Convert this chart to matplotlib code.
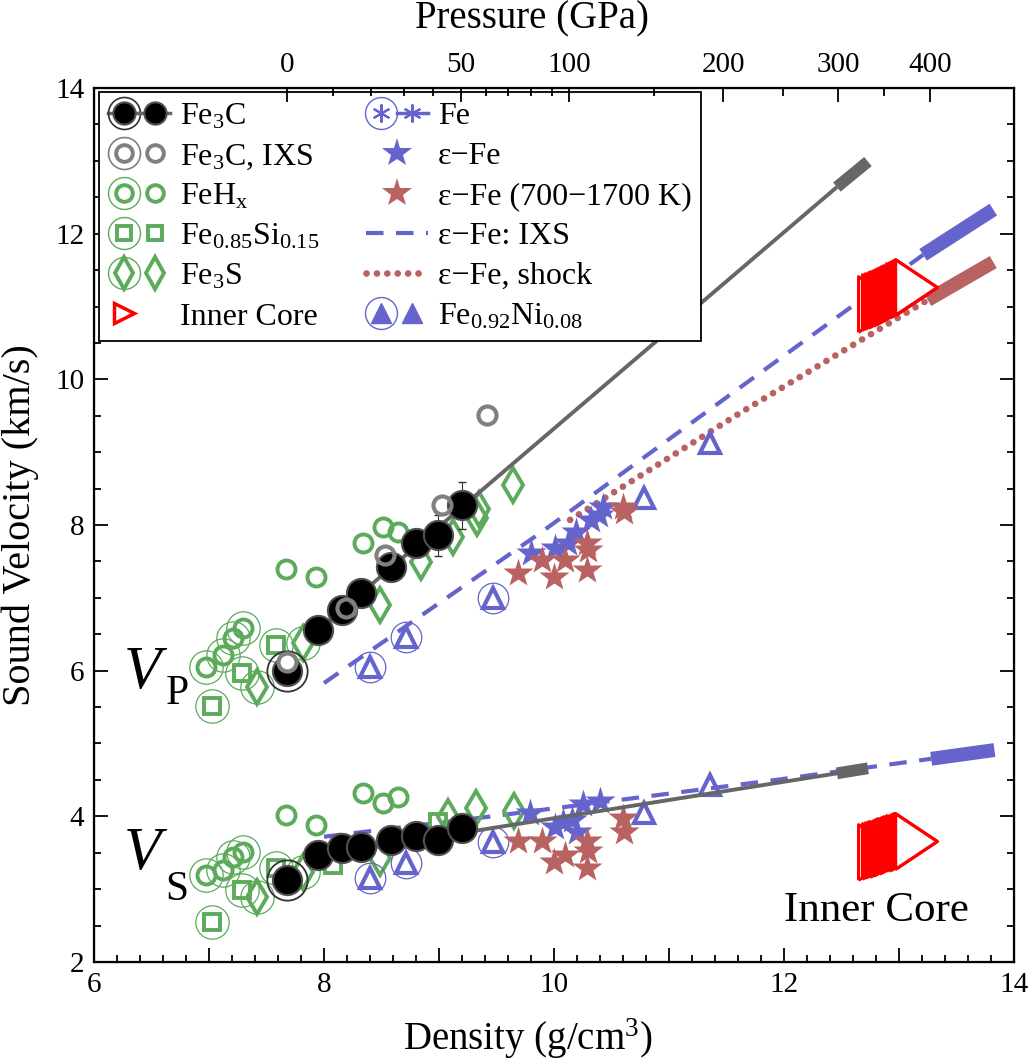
import matplotlib
matplotlib.use("Agg")
import matplotlib.pyplot as plt
from matplotlib.lines import Line2D
from matplotlib.legend_handler import HandlerTuple
from matplotlib.ticker import MultipleLocator, FuncFormatter

plt.rcParams["font.family"] = ["Liberation Serif", "DejaVu Serif"]
plt.rcParams["mathtext.fontset"] = "custom"
plt.rcParams["mathtext.rm"] = "Liberation Serif"
plt.rcParams["mathtext.it"] = "Liberation Serif:italic"

# ---------------- data ----------------
# Fe3C (NRIXS): density (g/cm3), Vp and Vs (km/s)
fe3c_rho = [7.95, 8.16, 8.32, 8.58, 8.80, 8.99, 9.20]
fe3c_vp = [6.56, 6.83, 7.07, 7.42, 7.75, 7.86, 8.27]
fe3c_vs = [3.47, 3.56, 3.58, 3.67, 3.73, 3.67, 3.84]
fe3c_vp_err = [0.0, 0.0, 0.0, 0.0, 0.05, 0.28, 0.32]
fe3c_rho_err = [0.0, 0.0, 0.0, 0.0, 0.0, 0.08, 0.0]
# Fe3C at ambient pressure
fe3c0_rho = [7.68]
fe3c0_vp = [6.00]
fe3c0_vs = [3.13]
# Fe3C, IXS
fe3c_ixs_rho = [8.19, 8.53, 9.03, 9.42]
fe3c_ixs_vp = [6.86, 7.59, 8.27, 9.51]
fe3c_ixs0_rho = [7.68]
fe3c_ixs0_vp = [6.12]
# Fe3C linear fit and its extrapolation to inner-core pressures
fe3c_fit_rho = [7.95, 12.46]
fe3c_fit_vp = [6.56, 12.64]
fe3c_fit_vs = [3.46, 4.59]
fe3c_ic_rho = [12.46, 12.73]
fe3c_ic_vp = [12.64, 12.99]
fe3c_ic_vs = [4.59, 4.66]

# FeHx
feh_rho = [7.67, 7.93, 8.34, 8.51, 8.64]
feh_vp = [7.40, 7.29, 7.75, 7.97, 7.90]
feh_vs = [4.02, 3.88, 4.32, 4.18, 4.27]
feh0_rho = [6.97, 7.12, 7.21, 7.30]
feh0_vp = [6.05, 6.21, 6.45, 6.59]
feh0_vs = [3.19, 3.26, 3.44, 3.51]

# Fe0.85Si0.15
fesi0_rho = [7.03, 7.29, 7.58]
fesi0_vp = [5.52, 5.97, 6.35]
fesi0_vs = [2.55, 2.99, 3.29]
fesi_rho = [8.08, 8.99]
fesi_vs = [3.33, 3.92]

# Fe3S
fes0_rho = [7.42, 7.82]
fes0_vp = [5.77, 6.38]
fes0_vs = [2.89, 3.24]
fes_rho = [8.49, 8.84, 9.12, 9.33, 9.35, 9.64]
fes_vp = [6.90, 7.49, 7.84, 8.10, 8.22, 8.55]
fes_vs_rho = [8.49, 9.08, 9.32, 9.65]
fes_vs = [3.43, 3.99, 4.11, 4.07]

# Fe0.92Ni0.08
feni0_rho = [8.40, 8.71, 9.47]
feni0_vp = [6.05, 6.46, 7.00]
feni0_vs = [3.15, 3.36, 3.65]
feni_rho = [10.78, 11.36]
feni_vp = [8.37, 9.13]
feni_vs = [4.04, 4.43]

# epsilon-Fe
efe_rho = [9.80, 10.01, 10.12, 10.19, 10.32, 10.39, 10.43]
efe_vp = [7.61, 7.68, 7.75, 7.91, 8.07, 8.14, 8.25]
efe_vs_rho = [9.79, 10.01, 10.08, 10.16, 10.20, 10.25, 10.40]
efe_vs = [4.04, 3.85, 3.92, 3.95, 3.78, 4.17, 4.21]

# epsilon-Fe, 700-1700 K
hfe_rho = [9.69, 9.90, 10.00, 10.10, 10.29, 10.30, 10.29, 10.60, 10.61]
hfe_vp = [7.34, 7.52, 7.29, 7.52, 7.75, 7.66, 7.38, 8.25, 8.18]
hfe_vs = [3.66, 3.66, 3.37, 3.47, 3.66, 3.52, 3.29, 3.98, 3.79]

# epsilon-Fe: IXS trend and extrapolation
ixs_rho = [8.00, 9.88, 11.62, 13.21]
ixs_vp = [5.83, 7.89, 9.89, 11.71]
ixs_ic_rho = [13.21, 13.82]
ixs_ic_vp = [11.71, 12.33]
ixs_vs_rho = [8.00, 9.36, 11.93, 13.28]
ixs_vs = [3.72, 3.98, 4.50, 4.79]
ixs_ic_vs_rho = [13.28, 13.83]
ixs_ic_vs = [4.79, 4.91]

# epsilon-Fe, shock
shock_rho = [10.14, 11.62, 13.25]
shock_vp = [8.07, 9.54, 11.09]
shock_ic_rho = [13.25, 13.82]
shock_ic_vp = [11.09, 11.61]

# Inner core (PREM), from the inner-core boundary (1221.5 km) to the centre
ic_rho = [12.764, 12.801, 12.825, 12.848, 12.871, 12.892, 12.912, 12.931, 12.949,
          12.966, 12.982, 13.010, 13.034, 13.054, 13.069, 13.080, 13.086, 13.089]
ic_vp = [11.028, 11.055, 11.073, 11.089, 11.105, 11.121, 11.135, 11.149, 11.162,
         11.174, 11.185, 11.206, 11.223, 11.237, 11.248, 11.256, 11.261, 11.262]
ic_vs = [3.504, 3.523, 3.535, 3.547, 3.558, 3.569, 3.579, 3.589, 3.598,
         3.606, 3.614, 3.628, 3.640, 3.650, 3.658, 3.663, 3.667, 3.668]

# Pressure scale (top axis): pressure (GPa) and corresponding density
p_major = [0, 50, 100, 200, 300, 400]
p_major_rho = [7.68, 9.19, 10.13, 11.47, 12.47, 13.27]
p_minor_rho = [8.08, 8.41, 8.70, 8.95, 9.41, 9.60, 9.80, 9.98, 10.87, 11.99, 12.87]

# ---------------- styles ----------------
GRAY = "#666666"
GREEN = "#5bab5b"
BLUE = "#6464cc"
BROWN = "#b86262"
RED = "#ff0000"
IXSGRAY = "#808080"
DASH = (0, (4.2, 3.0))
DOTS = (0, (0.01, 1.55))

fig = plt.figure(figsize=(10.35, 10.59), dpi=100)
ax = fig.add_axes([0.0908, 0.0916, 0.8889, 0.8253])

def ring(x, y, color, ms=24, mew=0.9, z=3):
    ax.plot(x, y, ls="none", marker="o", ms=ms, mfc="none", mec=color, mew=mew, zorder=z)

# lines
for ys, ys_ic in ((fe3c_fit_vp, fe3c_ic_vp), (fe3c_fit_vs, fe3c_ic_vs)):
    ax.plot(fe3c_fit_rho, ys, color=GRAY, lw=2.8, zorder=4, solid_capstyle="butt")
    ax.plot(fe3c_ic_rho, ys_ic, color=GRAY, lw=8.5, zorder=4, solid_capstyle="butt")

ax.plot(ixs_rho, ixs_vp, color=BLUE, lw=3.0, ls=DASH, zorder=2)
ax.plot(ixs_ic_rho, ixs_ic_vp, color=BLUE, lw=10, zorder=2, solid_capstyle="butt")
ax.plot(ixs_vs_rho, ixs_vs, color=BLUE, lw=3.0, ls=DASH, zorder=2)
ax.plot(ixs_ic_vs_rho, ixs_ic_vs, color=BLUE, lw=10, zorder=2, solid_capstyle="butt")
ax.plot(shock_rho, shock_vp, color=BROWN, lw=4.8, ls=DOTS,
        dash_capstyle="round", zorder=2)
ax.plot(shock_ic_rho, shock_ic_vp, color=BROWN, lw=10, zorder=2, solid_capstyle="butt")

# green: FeHx, Fe0.85Si0.15, Fe3S
for rho, vs in ((feh0_rho, feh0_vp), (feh0_rho, feh0_vs), (fesi0_rho, fesi0_vp),
                (fesi0_rho, fesi0_vs), (fes0_rho, fes0_vp), (fes0_rho, fes0_vs)):
    ring(rho, vs, GREEN, ms=24, mew=0.9)
mk = dict(ls="none", mfc="none", mec=GREEN, mew=2.8, zorder=3)
ax.plot(feh_rho, feh_vp, marker="o", ms=13, **mk)
ax.plot(feh_rho, feh_vs, marker="o", ms=13, **mk)
ax.plot(feh0_rho, feh0_vp, marker="o", ms=13, **mk)
ax.plot(feh0_rho, feh0_vs, marker="o", ms=13, **mk)
ax.plot(fesi0_rho, fesi0_vp, marker="s", ms=11, **mk)
ax.plot(fesi0_rho, fesi0_vs, marker="s", ms=11, **mk)
ax.plot(fesi_rho, fesi_vs, marker="s", ms=11, **mk)
ax.plot(fes0_rho, fes0_vp, marker="d", ms=17, **mk)
ax.plot(fes0_rho, fes0_vs, marker="d", ms=17, **mk)
ax.plot(fes_rho, fes_vp, marker="d", ms=17, **mk)
ax.plot(fes_vs_rho, fes_vs, marker="d", ms=17, **mk)

# blue: Fe0.92Ni0.08
ring(feni0_rho, feni0_vp, BLUE, ms=22)
ring(feni0_rho, feni0_vs, BLUE, ms=22)
tk = dict(ls="none", marker="^", ms=14, mfc="none", mec=BLUE, mew=3.0, zorder=3)
for rho, v in ((feni0_rho, feni0_vp), (feni0_rho, feni0_vs), (feni_rho, feni_vp), (feni_rho, feni_vs)):
    ax.plot(rho, v, **tk)

# stars
ax.plot(efe_rho, efe_vp, ls="none", marker="*", ms=22, mfc=BLUE, mec="none", zorder=3)
ax.plot(efe_vs_rho, efe_vs, ls="none", marker="*", ms=22, mfc=BLUE, mec="none", zorder=3)
ax.plot(hfe_rho, hfe_vp, ls="none", marker="*", ms=22, mfc=BROWN, mec="none", zorder=3)
ax.plot(hfe_rho, hfe_vs, ls="none", marker="*", ms=22, mfc=BROWN, mec="none", zorder=3)

# Fe3C
ax.errorbar(fe3c_rho, fe3c_vp, yerr=fe3c_vp_err, xerr=fe3c_rho_err, fmt="none",
            ecolor="#333333", elinewidth=0.8, capsize=3, zorder=4)
blk = dict(ls="none", marker="o", ms=21, mfc="black", mec="#505050", mew=1.5, zorder=5)
ax.plot(fe3c_rho, fe3c_vp, **blk)
ax.plot(fe3c_rho, fe3c_vs, **blk)
ax.plot(fe3c0_rho, fe3c0_vp, **blk)
ax.plot(fe3c0_rho, fe3c0_vs, **blk)
ring(fe3c0_rho, fe3c0_vp, "#333333", ms=29, mew=1.3, z=5)
ring(fe3c0_rho, fe3c0_vs, "#333333", ms=29, mew=1.3, z=5)
ax.plot(fe3c_ixs_rho, fe3c_ixs_vp, ls="none", marker="o", ms=13, mfc="none", mec=IXSGRAY, mew=3, zorder=6)
ax.plot(fe3c_ixs0_rho, fe3c_ixs0_vp, ls="none", marker="o", ms=13, mfc="white", mec=IXSGRAY, mew=3, zorder=6)

# inner core: right-pointing triangles anchored at their centroid
tri = [(-0.5, -1.0), (-0.5, 1.0), (1.0, 0.0), (-0.5, -1.0)]
for r, vp, vs in zip(ic_rho, ic_vp, ic_vs):
    ax.plot([r], [vp], ls="none", marker=tri, ms=40, mfc="white", mec=RED, mew=2.3, zorder=7)
    ax.plot([r], [vs], ls="none", marker=tri, ms=40, mfc="white", mec=RED, mew=2.3, zorder=7)

# labels on the plot
ax.text(6.25, 5.76, r"$V$", fontsize=44, va="baseline")
ax.text(6.62, 5.54, "P", fontsize=30, va="baseline")
ax.text(6.25, 3.27, r"$V$", fontsize=44, va="baseline")
ax.text(6.62, 2.85, "S", fontsize=30, va="baseline")
ax.text(12.80, 2.56, "Inner Core", fontsize=31, ha="center", va="baseline")

# axes
ax.set_xlim(6, 14)
ax.set_ylim(2, 14)
ax.xaxis.set_major_locator(MultipleLocator(1))
ax.xaxis.set_minor_locator(MultipleLocator(0.2))
ax.xaxis.set_major_formatter(FuncFormatter(lambda v, p: f"{v:.0f}" if round(v) % 2 == 0 else ""))
ax.yaxis.set_major_locator(MultipleLocator(2))
ax.yaxis.set_minor_locator(MultipleLocator(0.5))
ax.tick_params(which="both", direction="in", top=False, right=True, width=1.3, labelsize=21)
ax.tick_params(which="major", length=10, pad=7)
ax.tick_params(which="minor", length=5)
for s in ax.spines.values():
    s.set_linewidth(1.6)
ax.set_xlabel(r"Density (g/cm$^3$)", fontsize=28)
ax.xaxis.set_label_coords(0.472, -0.062)
ax.set_ylabel("Sound Velocity (km/s)", fontsize=29)
ax.yaxis.set_label_coords(-0.060, 0.50)

top = ax.twiny()
top.set_xlim(6, 14)
top.set_xticks(p_major_rho)
top.set_xticklabels([str(p) for p in p_major])
top.set_xticks(p_minor_rho, minor=True)
top.tick_params(which="both", direction="in", width=1.3, labelsize=21)
top.tick_params(which="major", length=10, pad=7)
top.tick_params(which="minor", length=6)
top.set_xlabel("Pressure (GPa)", fontsize=28)
top.xaxis.set_label_coords(0.476, 1.068)

# legend
def hl(marker, ms, mfc, mec, mew, ls="none", color=None, lw=2.5):
    return Line2D([], [], ls=ls, color=color or mec, lw=lw, marker=marker, ms=ms,
                  mfc=mfc, mec=mec, mew=mew)

blank = Line2D([], [], ls="none")
h_fe3c = ((hl(None, 0, "none", GRAY, 0, ls="-"),
           hl("o", 23, "none", "#333333", 1.2),
           hl("o", 16, "black", "#505050", 1.5)),
          hl("o", 16, "black", "#505050", 1.5, ls="-", color=GRAY))
h_ixs = ((hl("o", 23, "none", IXSGRAY, 1.2), hl("o", 12, "none", IXSGRAY, 2.8)),
         hl("o", 12, "none", IXSGRAY, 2.8))
h_feh = ((hl("o", 23, "none", GREEN, 1.0), hl("o", 12, "none", GREEN, 2.8)),
         hl("o", 12, "none", GREEN, 2.8))
h_fesi = ((hl("o", 23, "none", GREEN, 1.0), hl("s", 10, "none", GREEN, 2.8)),
          hl("s", 10, "none", GREEN, 2.8))
h_fes = ((hl("o", 23, "none", GREEN, 1.0), hl("d", 16, "none", GREEN, 2.8)),
         hl("d", 16, "none", GREEN, 2.8))
h_ic = (hl(">", 14, "none", RED, 2.5), blank)
h_fe = ((hl("o", 23, "none", BLUE, 1.0), hl((6, 2, 0), 13, BLUE, BLUE, 1.5)),
        hl((6, 2, 0), 13, BLUE, BLUE, 1.5, ls="-", color=BLUE))
h_efe = hl("*", 22, BLUE, "none", 0)
h_hfe = hl("*", 22, BROWN, "none", 0)
h_dash = Line2D([], [], color=BLUE, lw=3.0, ls=DASH)
h_dot = Line2D([], [], color=BROWN, lw=4.8, ls=DOTS, dash_capstyle="round")
h_feni = ((hl("o", 23, "none", BLUE, 1.0), hl("^", 15, BLUE, BLUE, 1.0)),
          hl("^", 15, BLUE, BLUE, 1.0))

handles = [h_fe3c, h_ixs, h_feh, h_fesi, h_fes, h_ic,
           h_fe, h_efe, h_hfe, h_dash, h_dot, h_feni]
labels = [r"Fe$_3$C", r"Fe$_3$C, IXS", r"FeH$_{\rm x}$", r"Fe$_{0.85}$Si$_{0.15}$",
          r"Fe$_3$S", "Inner Core",
          "Fe", "ε−Fe", "ε−Fe (700−1700 K)", "ε−Fe: IXS", "ε−Fe, shock",
          r"Fe$_{0.92}$Ni$_{0.08}$"]
hmap = {h: HandlerTuple(ndivide=None, pad=0.0) for h in handles if isinstance(h, tuple)}
leg = ax.legend(handles, labels, handler_map=hmap, ncol=2, loc="upper left",
                bbox_to_anchor=(0.005, 0.995), borderaxespad=0, fontsize=23,
                frameon=True, fancybox=False, edgecolor="black", framealpha=1,
                handlelength=1.95, handletextpad=0.3, columnspacing=1.45,
                labelspacing=0.33, borderpad=0.3)
leg.get_frame().set_linewidth(1.3)
leg.set_zorder(10)

fig.savefig("out.png", dpi=100)
